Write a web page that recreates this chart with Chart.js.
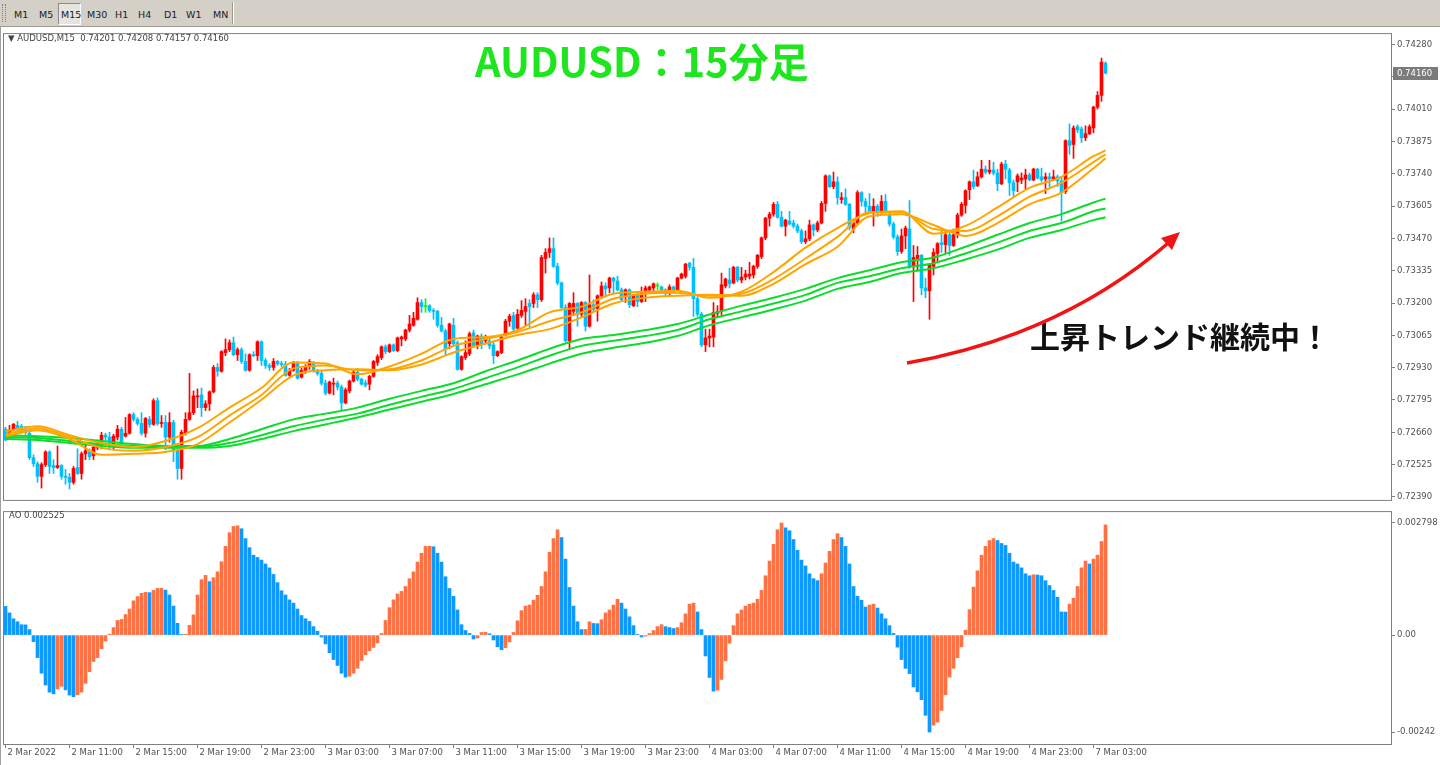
<!DOCTYPE html>
<html lang="ja">
<head>
<meta charset="utf-8">
<title>AUDUSD M15</title>
<script src="https://cdn.jsdelivr.net/npm/chart.js@4.4.1/dist/chart.umd.min.js"></script>
<style>
    html, body { margin: 0; padding: 0; background: #ffffff; }
    body { position: relative; width: 1440px; height: 765px; overflow: hidden; font-family: "DejaVu Sans", sans-serif; }
    #toolbar { position: absolute; left: 0; top: 0; width: 1440px; height: 26px; background: #d4d0c8; border-bottom: 1px solid #a09c94; }
    #toolbar .grip { position: absolute; left: 2px; top: 4px; width: 2px; height: 18px; border-left: 1px dotted #808080; border-right: 1px dotted #808080; }
    #toolbar .btn { position: absolute; top: 9px; font-size: 9.5px; line-height: 12px; color: #202020; }
    #toolbar .on { position: absolute; left: 58px; top: 3px; width: 21px; height: 20px; border: 1px solid #8c8c8c; border-right-color: #ffffff; border-bottom-color: #ffffff; background: #e6e4de; }
    #toolbar .sep { position: absolute; left: 232px; top: 2px; width: 1px; height: 22px; background: #ffffff; border-left: 1px solid #9c9890; }
    .wrap { position: absolute; left: 0; width: 1440px; }
    #mainWrap { top: 27px; height: 480px; }
    #aoWrap { top: 505px; height: 260px; }
    .lbl { position: absolute; font-size: 8.5px; color: #444444; white-space: nowrap; }
    #title { position: absolute; left: 475px; top: 40px; font: bold 40px/40px "Noto Sans CJK JP", sans-serif; color: #1ee61e; white-space: nowrap; }
    #note { position: absolute; left: 1030px; top: 320px; font: bold 30px/30px "Noto Sans CJK JP", sans-serif; color: #111111; white-space: nowrap; }
    #edgeL { position: absolute; left: 0; top: 27px; width: 1px; height: 738px; background: #a0a0a0; }
    svg { position: absolute; left: 0; top: 0; }
</style>
</head>
<body>
<div id="toolbar">
    <div class="grip"></div>
    <div class="on"></div>
    <span class="btn" style="left:14px">M1</span>
    <span class="btn" style="left:39px">M5</span>
    <span class="btn" style="left:61px">M15</span>
    <span class="btn" style="left:87px">M30</span>
    <span class="btn" style="left:115px">H1</span>
    <span class="btn" style="left:138px">H4</span>
    <span class="btn" style="left:164px">D1</span>
    <span class="btn" style="left:186px">W1</span>
    <span class="btn" style="left:213px">MN</span>
    <div class="sep"></div>
</div>
<div id="edgeL"></div>
<div class="wrap" id="mainWrap"><canvas id="mainChart" width="1440" height="480"></canvas></div>
<div class="wrap" id="aoWrap"><canvas id="aoChart" width="1440" height="260"></canvas></div>
<div class="lbl" style="left:8px; top:33px">▼ AUDUSD,M15&nbsp; 0.74201 0.74208 0.74157 0.74160</div>
<div class="lbl" style="left:9px; top:510px">AO 0.002525</div>
<div id="title">AUDUSD：15分足</div>
<div id="note">上昇トレンド継続中！</div>
<svg width="1440" height="765">
    <path d="M907,363 Q1060,336 1167,244" stroke="#f01414" stroke-width="3.5" fill="none"/>
    <polygon points="1180,232 1172,250 1161,238" fill="#f01414"/>
</svg>
<script>
// 15分足ローソク (2 Mar 07:00 から 7 Mar 03:45 まで)
const openPrices = [
    0.72673,0.72652,0.72673,0.72689,0.72685,0.72673,0.72656,0.72554,0.72529,0.72476,
    0.72525,0.72578,0.72521,0.72513,0.72521,0.72476,0.72472,0.72451,0.72513,0.72488,
    0.72570,0.72578,0.72562,0.72595,0.72611,0.72648,0.72640,0.72607,0.72640,0.72673,
    0.72644,0.72656,0.72734,0.72714,0.72697,0.72656,0.72714,0.72693,0.72792,0.72697,
    0.72701,0.72640,0.72701,0.72587,0.72509,0.72656,0.72714,0.72742,0.72808,0.72816,
    0.72763,0.72779,0.72829,0.72931,0.72915,0.72993,0.73005,0.73034,0.72984,0.73005,
    0.72956,0.72919,0.72984,0.72980,0.73038,0.72960,0.72939,0.72931,0.72956,0.72947,
    0.72943,0.72898,0.72919,0.72952,0.72890,0.72919,0.72935,0.72952,0.72915,0.72906,
    0.72865,0.72824,0.72861,0.72865,0.72849,0.72783,0.72833,0.72874,0.72911,0.72882,
    0.72866,0.72861,0.72894,0.72952,0.72972,0.73017,0.72997,0.73025,0.73001,0.73050,
    0.73050,0.73087,0.73107,0.73132,0.73202,0.73185,0.73189,0.73169,0.73165,0.73107,
    0.73083,0.73030,0.73107,0.73034,0.72923,0.72972,0.72988,0.73075,0.73025,0.73062,
    0.73042,0.73042,0.73025,0.72980,0.72993,0.73071,0.73124,0.73148,0.73095,0.73148,
    0.73165,0.73198,0.73198,0.73234,0.73214,0.73386,0.73411,0.73427,0.73353,0.73284,
    0.73181,0.73042,0.73165,0.73198,0.73153,0.73202,0.73103,0.73193,0.73177,0.73230,
    0.73271,0.73263,0.73304,0.73292,0.73255,0.73226,0.73255,0.73189,0.73234,0.73206,
    0.73247,0.73255,0.73263,0.73271,0.73267,0.73255,0.73243,0.73267,0.73255,0.73304,
    0.73312,0.73366,0.73349,0.73218,0.73153,0.73025,0.73054,0.73058,0.73157,0.73165,
    0.73271,0.73296,0.73284,0.73349,0.73296,0.73308,0.73312,0.73317,0.73353,0.73394,
    0.73472,0.73554,0.73571,0.73612,0.73558,0.73521,0.73542,0.73534,0.73521,0.73501,
    0.73456,0.73468,0.73526,0.73505,0.73534,0.73616,0.73731,0.73686,0.73706,0.73632,
    0.73640,0.73612,0.73509,0.73534,0.73661,0.73624,0.73604,0.73579,0.73604,0.73583,
    0.73624,0.73567,0.73530,0.73476,0.73415,0.73480,0.73509,0.73353,0.73386,0.73399,
    0.73263,0.73251,0.73353,0.73407,0.73452,0.73444,0.73485,0.73440,0.73485,0.73567,
    0.73608,0.73673,0.73706,0.73690,0.73727,0.73759,0.73747,0.73755,0.73743,0.73698,
    0.73780,0.73755,0.73702,0.73706,0.73714,0.73718,0.73735,0.73714,0.73759,0.73727,
    0.73718,0.73727,0.73718,0.73727,0.73710,0.73665,0.73878,0.73862,0.73936,0.73927,
    0.73890,0.73907,0.73931,0.74018,0.74067,0.74201
];
const highPrices = [
    0.72681,0.72689,0.72697,0.72706,0.72693,0.72685,0.72665,0.72566,0.72537,0.72533,
    0.72583,0.72583,0.72546,0.72603,0.72525,0.72505,0.72488,0.72517,0.72591,0.72578,
    0.72611,0.72591,0.72607,0.72628,0.72660,0.72656,0.72660,0.72652,0.72689,0.72681,
    0.72722,0.72738,0.72742,0.72722,0.72742,0.72722,0.72726,0.72800,0.72804,0.72730,
    0.72730,0.72742,0.72710,0.72595,0.72669,0.72742,0.72906,0.72833,0.72841,0.72845,
    0.72792,0.72833,0.72939,0.72947,0.73001,0.73050,0.73046,0.73058,0.73013,0.73013,
    0.72988,0.72988,0.72997,0.73042,0.73042,0.72968,0.72947,0.72968,0.72960,0.72956,
    0.72956,0.72927,0.72956,0.72956,0.72927,0.72943,0.72964,0.72956,0.72923,0.72915,
    0.72878,0.72874,0.72886,0.72874,0.72857,0.72845,0.72878,0.72919,0.72927,0.72886,
    0.72878,0.72898,0.72960,0.72984,0.73021,0.73025,0.73029,0.73029,0.73058,0.73062,
    0.73091,0.73148,0.73161,0.73222,0.73214,0.73218,0.73193,0.73177,0.73169,0.73140,
    0.73091,0.73116,0.73136,0.73042,0.72980,0.73042,0.73079,0.73087,0.73066,0.73071,
    0.73066,0.73050,0.73038,0.73001,0.73062,0.73132,0.73153,0.73161,0.73173,0.73210,
    0.73218,0.73214,0.73243,0.73243,0.73399,0.73427,0.73472,0.73472,0.73366,0.73288,
    0.73193,0.73202,0.73243,0.73202,0.73206,0.73206,0.73317,0.73214,0.73234,0.73288,
    0.73284,0.73308,0.73308,0.73312,0.73263,0.73259,0.73259,0.73234,0.73247,0.73267,
    0.73271,0.73271,0.73284,0.73284,0.73271,0.73259,0.73276,0.73271,0.73308,0.73325,
    0.73366,0.73370,0.73386,0.73226,0.73161,0.73091,0.73091,0.73202,0.73189,0.73325,
    0.73304,0.73345,0.73353,0.73353,0.73349,0.73337,0.73370,0.73358,0.73403,0.73476,
    0.73558,0.73579,0.73620,0.73624,0.73583,0.73550,0.73583,0.73546,0.73530,0.73509,
    0.73501,0.73546,0.73530,0.73542,0.73624,0.73735,0.73735,0.73747,0.73727,0.73661,
    0.73677,0.73616,0.73542,0.73669,0.73665,0.73636,0.73657,0.73636,0.73612,0.73649,
    0.73653,0.73575,0.73538,0.73485,0.73509,0.73521,0.73628,0.73440,0.73436,0.73403,
    0.73304,0.73366,0.73427,0.73452,0.73509,0.73505,0.73493,0.73509,0.73575,0.73620,
    0.73673,0.73710,0.73755,0.73747,0.73796,0.73772,0.73796,0.73788,0.73759,0.73788,
    0.73796,0.73763,0.73714,0.73739,0.73743,0.73759,0.73743,0.73763,0.73763,0.73763,
    0.73743,0.73743,0.73755,0.73735,0.73727,0.73882,0.73948,0.73940,0.73944,0.73936,
    0.73940,0.73944,0.74022,0.74083,0.74223,0.74208
];
const lowPrices = [
    0.72624,0.72640,0.72669,0.72660,0.72656,0.72652,0.72546,0.72517,0.72451,0.72427,
    0.72517,0.72488,0.72488,0.72509,0.72464,0.72443,0.72423,0.72443,0.72484,0.72464,
    0.72546,0.72546,0.72546,0.72587,0.72591,0.72619,0.72587,0.72587,0.72628,0.72607,
    0.72640,0.72652,0.72706,0.72689,0.72648,0.72640,0.72681,0.72689,0.72689,0.72681,
    0.72587,0.72619,0.72537,0.72464,0.72464,0.72648,0.72710,0.72734,0.72763,0.72726,
    0.72751,0.72751,0.72824,0.72894,0.72911,0.72980,0.72997,0.72980,0.72960,0.72947,
    0.72915,0.72915,0.72976,0.72960,0.72939,0.72927,0.72919,0.72919,0.72939,0.72935,
    0.72894,0.72894,0.72915,0.72882,0.72886,0.72906,0.72923,0.72911,0.72898,0.72857,
    0.72816,0.72820,0.72816,0.72837,0.72751,0.72779,0.72824,0.72870,0.72874,0.72857,
    0.72849,0.72837,0.72890,0.72939,0.72964,0.72988,0.72993,0.72997,0.72997,0.73021,
    0.73042,0.73079,0.73103,0.73128,0.73161,0.73161,0.73161,0.73132,0.73099,0.73079,
    0.72980,0.73009,0.73021,0.72919,0.72919,0.72964,0.72980,0.73017,0.73009,0.73009,
    0.73034,0.73009,0.72947,0.72976,0.72988,0.73062,0.73103,0.73083,0.73091,0.73140,
    0.73103,0.73099,0.73181,0.73181,0.73206,0.73325,0.73390,0.73349,0.73276,0.73177,
    0.73038,0.73009,0.73148,0.73103,0.73144,0.73083,0.73099,0.73161,0.73124,0.73222,
    0.73226,0.73243,0.73243,0.73251,0.73206,0.73202,0.73181,0.73185,0.73185,0.73202,
    0.73206,0.73243,0.73243,0.73255,0.73243,0.73226,0.73234,0.73243,0.73251,0.73300,
    0.73304,0.73337,0.73144,0.73144,0.73017,0.72997,0.73017,0.73017,0.73140,0.73148,
    0.73263,0.73263,0.73280,0.73288,0.73284,0.73296,0.73300,0.73304,0.73345,0.73386,
    0.73464,0.73521,0.73562,0.73554,0.73517,0.73480,0.73526,0.73513,0.73493,0.73448,
    0.73448,0.73460,0.73480,0.73497,0.73530,0.73583,0.73682,0.73677,0.73612,0.73616,
    0.73608,0.73505,0.73493,0.73530,0.73604,0.73575,0.73575,0.73521,0.73562,0.73575,
    0.73575,0.73521,0.73468,0.73399,0.73407,0.73427,0.73345,0.73206,0.73337,0.73234,
    0.73222,0.73132,0.73317,0.73370,0.73411,0.73411,0.73399,0.73436,0.73472,0.73562,
    0.73575,0.73632,0.73677,0.73686,0.73722,0.73739,0.73739,0.73735,0.73669,0.73694,
    0.73718,0.73649,0.73645,0.73665,0.73698,0.73677,0.73710,0.73710,0.73718,0.73706,
    0.73657,0.73686,0.73714,0.73686,0.73542,0.73657,0.73821,0.73804,0.73911,0.73870,
    0.73878,0.73903,0.73911,0.74010,0.74042,0.74157
];
const closePrices = [
    0.72628,0.72669,0.72693,0.72673,0.72669,0.72660,0.72554,0.72529,0.72476,0.72525,
    0.72578,0.72517,0.72513,0.72521,0.72476,0.72472,0.72451,0.72509,0.72488,0.72570,
    0.72583,0.72558,0.72599,0.72611,0.72648,0.72640,0.72607,0.72644,0.72673,0.72615,
    0.72656,0.72734,0.72714,0.72697,0.72656,0.72718,0.72693,0.72792,0.72697,0.72701,
    0.72640,0.72701,0.72587,0.72509,0.72660,0.72714,0.72742,0.72812,0.72812,0.72763,
    0.72779,0.72829,0.72931,0.72915,0.72997,0.73005,0.73034,0.72984,0.73005,0.72956,
    0.72919,0.72984,0.72980,0.73038,0.72960,0.72939,0.72931,0.72956,0.72947,0.72943,
    0.72898,0.72919,0.72952,0.72886,0.72919,0.72935,0.72956,0.72915,0.72906,0.72865,
    0.72824,0.72870,0.72865,0.72849,0.72783,0.72837,0.72874,0.72911,0.72882,0.72861,
    0.72857,0.72894,0.72956,0.72976,0.73017,0.72997,0.73025,0.73001,0.73054,0.73058,
    0.73087,0.73112,0.73136,0.73202,0.73185,0.73185,0.73169,0.73165,0.73107,0.73083,
    0.73005,0.73112,0.73030,0.72923,0.72976,0.72993,0.73071,0.73021,0.73062,0.73030,
    0.73054,0.73021,0.72980,0.72997,0.73058,0.73124,0.73144,0.73091,0.73153,0.73169,
    0.73185,0.73185,0.73234,0.73214,0.73390,0.73411,0.73427,0.73353,0.73284,0.73181,
    0.73042,0.73198,0.73198,0.73153,0.73202,0.73103,0.73193,0.73173,0.73230,0.73271,
    0.73259,0.73304,0.73292,0.73255,0.73214,0.73255,0.73193,0.73230,0.73206,0.73247,
    0.73263,0.73267,0.73280,0.73271,0.73255,0.73243,0.73267,0.73251,0.73304,0.73321,
    0.73362,0.73349,0.73218,0.73153,0.73025,0.73054,0.73062,0.73161,0.73165,0.73276,
    0.73300,0.73280,0.73349,0.73296,0.73308,0.73321,0.73321,0.73353,0.73399,0.73472,
    0.73554,0.73571,0.73612,0.73558,0.73521,0.73546,0.73530,0.73521,0.73501,0.73456,
    0.73468,0.73526,0.73505,0.73534,0.73616,0.73731,0.73686,0.73706,0.73640,0.73640,
    0.73612,0.73517,0.73534,0.73661,0.73624,0.73604,0.73583,0.73604,0.73583,0.73624,
    0.73583,0.73530,0.73476,0.73415,0.73480,0.73513,0.73353,0.73390,0.73399,0.73263,
    0.73251,0.73358,0.73411,0.73448,0.73444,0.73485,0.73440,0.73485,0.73567,0.73612,
    0.73669,0.73706,0.73686,0.73727,0.73759,0.73747,0.73755,0.73743,0.73698,0.73780,
    0.73759,0.73702,0.73669,0.73731,0.73722,0.73735,0.73714,0.73759,0.73722,0.73714,
    0.73727,0.73718,0.73727,0.73710,0.73661,0.73878,0.73858,0.73931,0.73923,0.73890,
    0.73907,0.73936,0.74018,0.74067,0.74206,0.74160
];

// 移動平均線 (8本ごとに読み取り)
const maIndex = [0,8,16,24,32,40,48,56,64,72,80,88,96,104,112,120,128,136,144,152,160,168,176,184,192,200,208,216,224,232,240,248,256,264,272,275];
const orangeFast = [0.72665,0.72685,0.72648,0.72615,0.72599,0.72624,0.72677,0.72763,0.72845,0.72952,0.72947,0.72902,0.72935,0.72988,0.73050,0.73058,0.73087,0.73161,0.73185,0.73239,0.73247,0.73251,0.73222,0.73247,0.73329,0.73431,0.73513,0.73575,0.73583,0.73489,0.73522,0.73599,0.73681,0.73727,0.73813,0.73837];
const orangeMid = [0.72652,0.72677,0.72640,0.72595,0.72583,0.72599,0.72640,0.72730,0.72816,0.72927,0.72939,0.72919,0.72923,0.72960,0.73021,0.73050,0.73079,0.73124,0.73161,0.73218,0.73239,0.73243,0.73230,0.73239,0.73300,0.73386,0.73476,0.73579,0.73579,0.73509,0.73501,0.73562,0.73644,0.73702,0.73788,0.73821];
const orangeSlow = [0.72644,0.72669,0.72632,0.72566,0.72570,0.72578,0.72611,0.72701,0.72796,0.72898,0.72919,0.72923,0.72919,0.72943,0.72993,0.73030,0.73066,0.73091,0.73140,0.73198,0.73222,0.73230,0.73234,0.73230,0.73280,0.73362,0.73435,0.73562,0.73571,0.73526,0.73480,0.73534,0.73612,0.73661,0.73763,0.73804];
const greenFast = [0.72648,0.72644,0.72636,0.72624,0.72611,0.72603,0.72603,0.72632,0.72673,0.72714,0.72738,0.72763,0.72800,0.72833,0.72865,0.72915,0.72960,0.73009,0.73050,0.73066,0.73087,0.73112,0.73152,0.73189,0.73222,0.73259,0.73304,0.73337,0.73370,0.73390,0.73435,0.73485,0.73534,0.73571,0.73620,0.73636];
const greenMid = [0.72640,0.72636,0.72624,0.72611,0.72603,0.72599,0.72599,0.72615,0.72648,0.72685,0.72714,0.72738,0.72775,0.72808,0.72841,0.72886,0.72931,0.72980,0.73021,0.73042,0.73062,0.73087,0.73132,0.73165,0.73198,0.73234,0.73284,0.73312,0.73345,0.73366,0.73407,0.73452,0.73501,0.73534,0.73583,0.73595];
const greenSlow = [0.72632,0.72628,0.72615,0.72603,0.72595,0.72595,0.72595,0.72603,0.72632,0.72665,0.72693,0.72722,0.72755,0.72788,0.72820,0.72861,0.72902,0.72947,0.72988,0.73013,0.73034,0.73062,0.73107,0.73140,0.73173,0.73210,0.73259,0.73288,0.73325,0.73345,0.73382,0.73423,0.73472,0.73505,0.73546,0.73558];

// Awesome Oscillator
const aoValues = [
    0.000716,0.000554,0.000407,0.000334,0.000260,0.000255,0.000138,-0.000163,-0.000562,-0.000952,
    -0.001245,-0.001424,-0.001465,-0.001343,-0.001278,-0.001368,-0.001498,-0.001538,-0.001490,-0.001424,
    -0.001205,-0.000912,-0.000659,-0.000562,-0.000342,-0.000147,0.000024,0.000187,0.000366,0.000391,
    0.000513,0.000651,0.000855,0.000961,0.001042,0.001066,0.001060,0.001115,0.001164,0.001170,
    0.001123,0.001001,0.000724,0.000293,0.000016,0.000020,0.000244,0.000505,0.001001,0.001384,
    0.001490,0.001335,0.001433,0.001579,0.001832,0.002214,0.002556,0.002711,0.002727,0.002654,
    0.002409,0.002182,0.001994,0.001937,0.001872,0.001775,0.001677,0.001514,0.001311,0.001107,
    0.001001,0.000879,0.000798,0.000651,0.000488,0.000407,0.000342,0.000212,0.000098,-0.000049,
    -0.000220,-0.000440,-0.000611,-0.000757,-0.000952,-0.001050,-0.001026,-0.000952,-0.000830,-0.000635,
    -0.000488,-0.000391,-0.000309,-0.000195,0.000041,0.000366,0.000684,0.000879,0.001026,0.001091,
    0.001213,0.001408,0.001579,0.001823,0.002043,0.002214,0.002220,0.002205,0.002043,0.001823,
    0.001457,0.001164,0.000969,0.000627,0.000260,0.000114,0.000041,-0.000098,-0.000073,0.000065,
    0.000068,0.000033,-0.000122,-0.000293,-0.000366,-0.000317,-0.000171,0.000065,0.000358,0.000611,
    0.000724,0.000749,0.000871,0.000993,0.001213,0.001579,0.002068,0.002409,0.002629,0.002434,
    0.001897,0.001188,0.000724,0.000334,0.000138,0.000142,0.000334,0.000290,0.000285,0.000383,
    0.000554,0.000627,0.000749,0.000895,0.000798,0.000651,0.000456,0.000236,0.000016,-0.000049,
    -0.000024,0.000041,0.000114,0.000212,0.000260,0.000212,0.000187,0.000163,0.000187,0.000309,
    0.000529,0.000773,0.000798,0.000578,0.000138,-0.000521,-0.001058,-0.001400,-0.001376,-0.001107,
    -0.000643,-0.000204,0.000236,0.000529,0.000627,0.000724,0.000773,0.000798,0.000895,0.001115,
    0.001481,0.001848,0.002263,0.002629,0.002798,0.002678,0.002605,0.002385,0.002116,0.001872,
    0.001726,0.001530,0.001408,0.001359,0.001530,0.001799,0.002092,0.002385,0.002532,0.002434,
    0.002214,0.001775,0.001213,0.000969,0.000871,0.000700,0.000749,0.000773,0.000676,0.000529,
    0.000407,0.000236,0.000041,-0.000301,-0.000611,-0.000830,-0.000961,-0.001294,-0.001416,-0.001612,
    -0.002002,-0.002420,-0.002247,-0.002173,-0.001880,-0.001490,-0.001050,-0.000830,-0.000562,-0.000293,
    0.000122,0.000635,0.001197,0.001604,0.001994,0.002214,0.002361,0.002409,0.002361,0.002287,
    0.002238,0.002043,0.001823,0.001775,0.001677,0.001530,0.001481,0.001506,0.001500,0.001481,
    0.001359,0.001237,0.001115,0.000944,0.000578,0.000575,0.000773,0.000920,0.001213,0.001677,
    0.001848,0.001775,0.001897,0.001994,0.002336,0.002751
];

// 軸ラベル
const priceTicks = ['0.74280','0.74145','0.74010','0.73875','0.73740','0.73605','0.73470','0.73335','0.73200','0.73065','0.72930','0.72795','0.72660','0.72525','0.72390'];
const aoTickValues = [0.002798, 0, -0.00242];
const aoTickText = ['0.002798', '0.00', '-0.00242'];
const timeTickIndex = [0,16,32,48,64,80,96,112,128,144,160,176,192,208,224,240,256,272];
const timeLabels = ['2 Mar 2022','2 Mar 11:00','2 Mar 15:00','2 Mar 19:00','2 Mar 23:00','3 Mar 03:00','3 Mar 07:00','3 Mar 11:00','3 Mar 15:00','3 Mar 19:00','3 Mar 23:00','4 Mar 03:00','4 Mar 07:00','4 Mar 11:00','4 Mar 15:00','4 Mar 19:00','4 Mar 23:00','7 Mar 03:00'];

document.addEventListener('DOMContentLoaded', function() {
    if (typeof Chart === 'undefined') {
        console.error('Chart.js chưa được load');
        return;
    }

    Chart.defaults.font.family = '"DejaVu Sans", sans-serif';
    Chart.defaults.font.size = 8.5;
    Chart.defaults.color = '#505050';

    const bullColor = '#ff0000';
    const bearColor = '#00bfff';
    const dojiColor = '#00ff00';
    const maOrange = '#ffa500';
    const maGreen = '#0cdc2c';
    const aoUp = '#ff7043';
    const aoDown = '#0d99ff';
    const frameColor = '#808080';

    // 4px per bar, same for both panels
    const xMin = -0.375;
    const xMax = 346.375;

    const barIndex = closePrices.map((_, i) => i);
    const candleColors = barIndex.map(i => {
        if (closePrices[i] > openPrices[i]) return bullColor;
        if (closePrices[i] < openPrices[i]) return bearColor;
        return dojiColor;
    });
    const aoColors = aoValues.map((v, i) => (i > 0 && v > aoValues[i - 1]) ? aoUp : aoDown);

    const framePlugin = {
        id: 'frame',
        afterDraw(chart) {
            const a = chart.chartArea;
            const c = chart.ctx;
            c.save();
            c.strokeStyle = frameColor;
            c.lineWidth = 1;
            c.strokeRect(a.left - 0.5, a.top - 0.5, a.right - a.left + 1, a.bottom - a.top + 1);
            c.restore();
        }
    };

    const priceBoxPlugin = {
        id: 'priceBox',
        afterDraw(chart) {
            const last = closePrices[closePrices.length - 1];
            const y = Math.round(chart.scales.y.getPixelForValue(last));
            const x = chart.chartArea.right + 2;
            const c = chart.ctx;
            c.save();
            c.fillStyle = '#7b7b7b';
            c.fillRect(x, y - 6, 45, 13);
            c.fillStyle = '#ffffff';
            c.font = '8.5px "DejaVu Sans"';
            c.textBaseline = 'middle';
            c.fillText(last.toFixed(5), x + 4, y + 0.5);
            c.restore();
        }
    };

    function maDataset(values, color) {
        return {
            type: 'line',
            data: maIndex.map((x, k) => ({ x: x, y: values[k] })),
            borderColor: color,
            borderWidth: 2,
            pointRadius: 0,
            fill: false,
            cubicInterpolationMode: 'monotone',
            order: 0
        };
    }

    new Chart(document.getElementById('mainChart'), {
        type: 'bar',
        data: {
            datasets: [
                maDataset(orangeFast, maOrange),
                maDataset(orangeMid, maOrange),
                maDataset(orangeSlow, maOrange),
                maDataset(greenFast, maGreen),
                maDataset(greenMid, maGreen),
                maDataset(greenSlow, maGreen),
                {
                    data: barIndex.map(i => ({ x: i, y: [Math.min(openPrices[i], closePrices[i]), Math.max(openPrices[i], closePrices[i])] })),
                    backgroundColor: candleColors,
                    barThickness: 3,
                    minBarLength: 1,
                    grouped: false,
                    order: 1
                },
                {
                    data: barIndex.map(i => ({ x: i, y: [lowPrices[i], highPrices[i]] })),
                    backgroundColor: candleColors,
                    barThickness: 1,
                    grouped: false,
                    order: 2
                }
            ]
        },
        options: {
            responsive: false,
            animation: false,
            events: [],
            layout: { padding: { left: 4, right: 0, top: 2, bottom: 3 } },
            plugins: { legend: { display: false }, tooltip: { enabled: false } },
            scales: {
                x: { type: 'linear', min: xMin, max: xMax, offset: false, display: false },
                y: {
                    position: 'right',
                    min: 0.723777,
                    max: 0.74323,
                    afterBuildTicks: s => { s.ticks = priceTicks.map(t => ({ value: parseFloat(t) })); },
                    afterFit: s => { s.width = 49; },
                    ticks: { callback: (v, i) => priceTicks[i], padding: 2 },
                    grid: { drawOnChartArea: false, tickLength: 4, color: frameColor },
                    border: { display: false }
                }
            }
        },
        plugins: [framePlugin, priceBoxPlugin]
    });

    new Chart(document.getElementById('aoChart'), {
        type: 'bar',
        data: {
            datasets: [{
                data: aoValues.map((v, i) => ({ x: i, y: v })),
                backgroundColor: aoColors,
                barThickness: 3
            }]
        },
        options: {
            responsive: false,
            animation: false,
            events: [],
            layout: { padding: { left: 4, right: 0, top: 2, bottom: 0 } },
            plugins: { legend: { display: false }, tooltip: { enabled: false } },
            scales: {
                x: {
                    type: 'linear',
                    min: xMin,
                    max: xMax,
                    offset: false,
                    afterBuildTicks: s => { s.ticks = timeTickIndex.map(v => ({ value: v })); },
                    afterFit: s => { s.height = 21; },
                    ticks: { callback: (v, i) => timeLabels[i], align: 'start', labelOffset: 2, padding: 0, maxRotation: 0, autoSkip: false },
                    grid: { drawOnChartArea: false, offset: false, tickLength: 4, color: frameColor },
                    border: { display: false }
                },
                y: {
                    position: 'right',
                    min: -0.0027179,
                    max: 0.0030696,
                    afterBuildTicks: s => { s.ticks = aoTickValues.map(v => ({ value: v })); },
                    afterFit: s => { s.width = 49; },
                    ticks: { callback: (v, i) => aoTickText[i], padding: 2 },
                    grid: { drawOnChartArea: false, tickLength: 4, color: frameColor },
                    border: { display: false }
                }
            }
        },
        plugins: [framePlugin]
    });
});
</script>
</body>
</html>
